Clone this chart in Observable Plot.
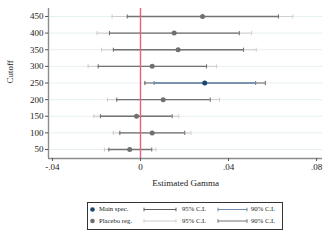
<!DOCTYPE html>
<html>
<head>
<meta charset="utf-8">
<script src="https://cdn.jsdelivr.net/npm/d3@7"></script>
<script src="https://cdn.jsdelivr.net/npm/@observablehq/plot@0.6"></script>
<style>
  body { margin: 0; background: #fff; }
  #wrap { position: relative; width: 330px; height: 240px; font-family: "Liberation Serif", "DejaVu Serif", serif; }
  #legend { position: absolute; left: 87px; top: 202px; }
</style>
</head>
<body>
<div id="wrap"><div id="chart"></div><div id="legend"></div></div>
<script>
// ---- data ----
const cutoffs   = [450, 400, 350, 300, 250, 200, 150, 100, 50];
const spec      = ["Placebo reg.", "Placebo reg.", "Placebo reg.", "Placebo reg.", "Main spec.", "Placebo reg.", "Placebo reg.", "Placebo reg.", "Placebo reg."];
const estimate  = [0.0282, 0.0153, 0.0171, 0.0053, 0.0292, 0.0103, -0.0018, 0.0053, -0.0049];
const ci95Low   = [-0.0129, -0.0197, -0.0177, -0.0238, 0.0020, -0.0150, -0.0212, -0.0124, -0.0164];
const ci90Low   = [-0.0060, -0.0141, -0.0123, -0.0192, 0.0062, -0.0108, -0.0182, -0.0094, -0.0144];
const ci90High  = [0.0627, 0.0449, 0.0468, 0.0300, 0.0523, 0.0317, 0.0144, 0.0201, 0.0051];
const ci95High  = [0.0692, 0.0505, 0.0526, 0.0345, 0.0567, 0.0359, 0.0174, 0.0229, 0.0070];
const yTicks    = [50, 100, 150, 200, 250, 300, 350, 400, 450];
const xTicks    = [-0.04, 0, 0.04, 0.08];
const xTickLabels = ["-.04", "0", ".04", ".08"];
const refLine   = [0];
const xTitle = "Estimated Gamma";
const yTitle = "Cutoff";
const legendSeries = ["Main spec.", "Placebo reg."];
const legendCI = ["95% C.I.", "90% C.I."];

// ---- styles ----
const xDomain = [-0.0418, 0.0827];
const yDomain = [23, 474];
const colors = {
  "Main spec.":   {dot: "#1a476f", c95: "#5e5e5e", c90: "#6b8cae"},
  "Placebo reg.": {dot: "#707070", c95: "#cdcdcd", c90: "#737373"}
};

const rows = cutoffs.map((c, i) => ({
  cutoff: c, spec: spec[i], est: estimate[i],
  l95: ci95Low[i], l90: ci90Low[i], h90: ci90High[i], h95: ci95High[i]
}));

const capSymbol = {
  draw(ctx, size) {
    const h = Math.sqrt(size / Math.PI);
    ctx.moveTo(0, -h); ctx.lineTo(0, h);
  }
};

const c95 = d => colors[d.spec].c95;
const c90 = d => colors[d.spec].c90;

const chart = Plot.plot({
  width: 330, height: 240,
  marginLeft: 48, marginRight: 8, marginTop: 8, marginBottom: 82,
  style: {fontFamily: "Liberation Serif", fontSize: "9px", color: "#222", background: "white", overflow: "visible"},
  x: {domain: xDomain},
  y: {domain: yDomain},
  marks: [
    Plot.ruleY(yTicks, {stroke: "#e6eff1", strokeWidth: 1}),
    // 95% CI
    Plot.ruleY(rows, {y: "cutoff", x1: "l95", x2: "h95", stroke: c95, strokeWidth: 1}),
    // 90% CI
    Plot.ruleY(rows, {y: "cutoff", x1: "l90", x2: "h90", stroke: c90, strokeWidth: 1.3}),
    // caps
    Plot.dot(rows, {x: "l95", y: "cutoff", symbol: capSymbol, r: 2.1, stroke: c95, strokeWidth: 1}),
    Plot.dot(rows, {x: "h95", y: "cutoff", symbol: capSymbol, r: 2.1, stroke: c95, strokeWidth: 1}),
    Plot.dot(rows, {x: "l90", y: "cutoff", symbol: capSymbol, r: 2.1, stroke: c90, strokeWidth: 1.1}),
    Plot.dot(rows, {x: "h90", y: "cutoff", symbol: capSymbol, r: 2.1, stroke: c90, strokeWidth: 1.1}),
    // reference line
    Plot.ruleX(refLine, {stroke: "#e8607f", strokeWidth: 1.4}),
    // points
    Plot.dot(rows, {x: "est", y: "cutoff", r: 2.5, fill: d => colors[d.spec].dot, stroke: "none"}),
    // axes lines
    Plot.ruleX([xDomain[0]], {stroke: "#8c8c8c", strokeWidth: 1.4}),
    Plot.ruleY([yDomain[0]], {stroke: "#8c8c8c", strokeWidth: 1.4}),
    Plot.axisY(yTicks, {tickSize: 3, tickPadding: 2, label: null, stroke: "#555", fill: "#222"}),
    Plot.axisX(xTicks, {tickSize: 3, tickPadding: 2, label: null, tickFormat: (d, i) => xTickLabels[xTicks.indexOf(d)], stroke: "#555", fill: "#222"}),
    Plot.text([xTitle], {frameAnchor: "bottom", dy: 27, fontSize: 9, fill: "#222"}),
    Plot.text([yTitle], {frameAnchor: "left", dx: -38, rotate: -90, fontSize: 9, fill: "#222"})
  ]
});
document.getElementById("chart").append(chart);

// ---- legend ----
const ns = "http://www.w3.org/2000/svg";
const lg = document.createElementNS(ns, "svg");
lg.setAttribute("width", 196); lg.setAttribute("height", 28);
lg.style.fontFamily = "Liberation Serif";
function el(tag, attrs, text) {
  const e = document.createElementNS(ns, tag);
  for (const k in attrs) e.setAttribute(k, attrs[k]);
  if (text) e.textContent = text;
  lg.appendChild(e); return e;
}
el("rect", {x: 0.5, y: 0.5, width: 195, height: 27, fill: "white", stroke: "#333", "stroke-width": 1});
const rowY = [7.5, 19];
legendSeries.forEach((s, i) => {
  const y = rowY[i];
  el("circle", {cx: 5.5, cy: y, r: 2.3, fill: colors[s].dot});
  el("text", {x: 12, y: y, "dominant-baseline": "middle", "font-size": 6.7, fill: "#222"}, s);
  const segs = [[57, 89, colors[s].c95, 95], [131, 160, colors[s].c90, 164]];
  segs.forEach(([a, b, col, tx], j) => {
    el("line", {x1: a, x2: b, y1: y, y2: y, stroke: col, "stroke-width": 1});
    el("line", {x1: a, x2: a, y1: y - 1.8, y2: y + 1.8, stroke: col, "stroke-width": 1});
    el("line", {x1: b, x2: b, y1: y - 1.8, y2: y + 1.8, stroke: col, "stroke-width": 1});
    el("text", {x: tx, y: y, "dominant-baseline": "middle", "font-size": 6.7, fill: "#222"}, legendCI[j]);
  });
});
document.getElementById("legend").append(lg);
</script>
</body>
</html>
